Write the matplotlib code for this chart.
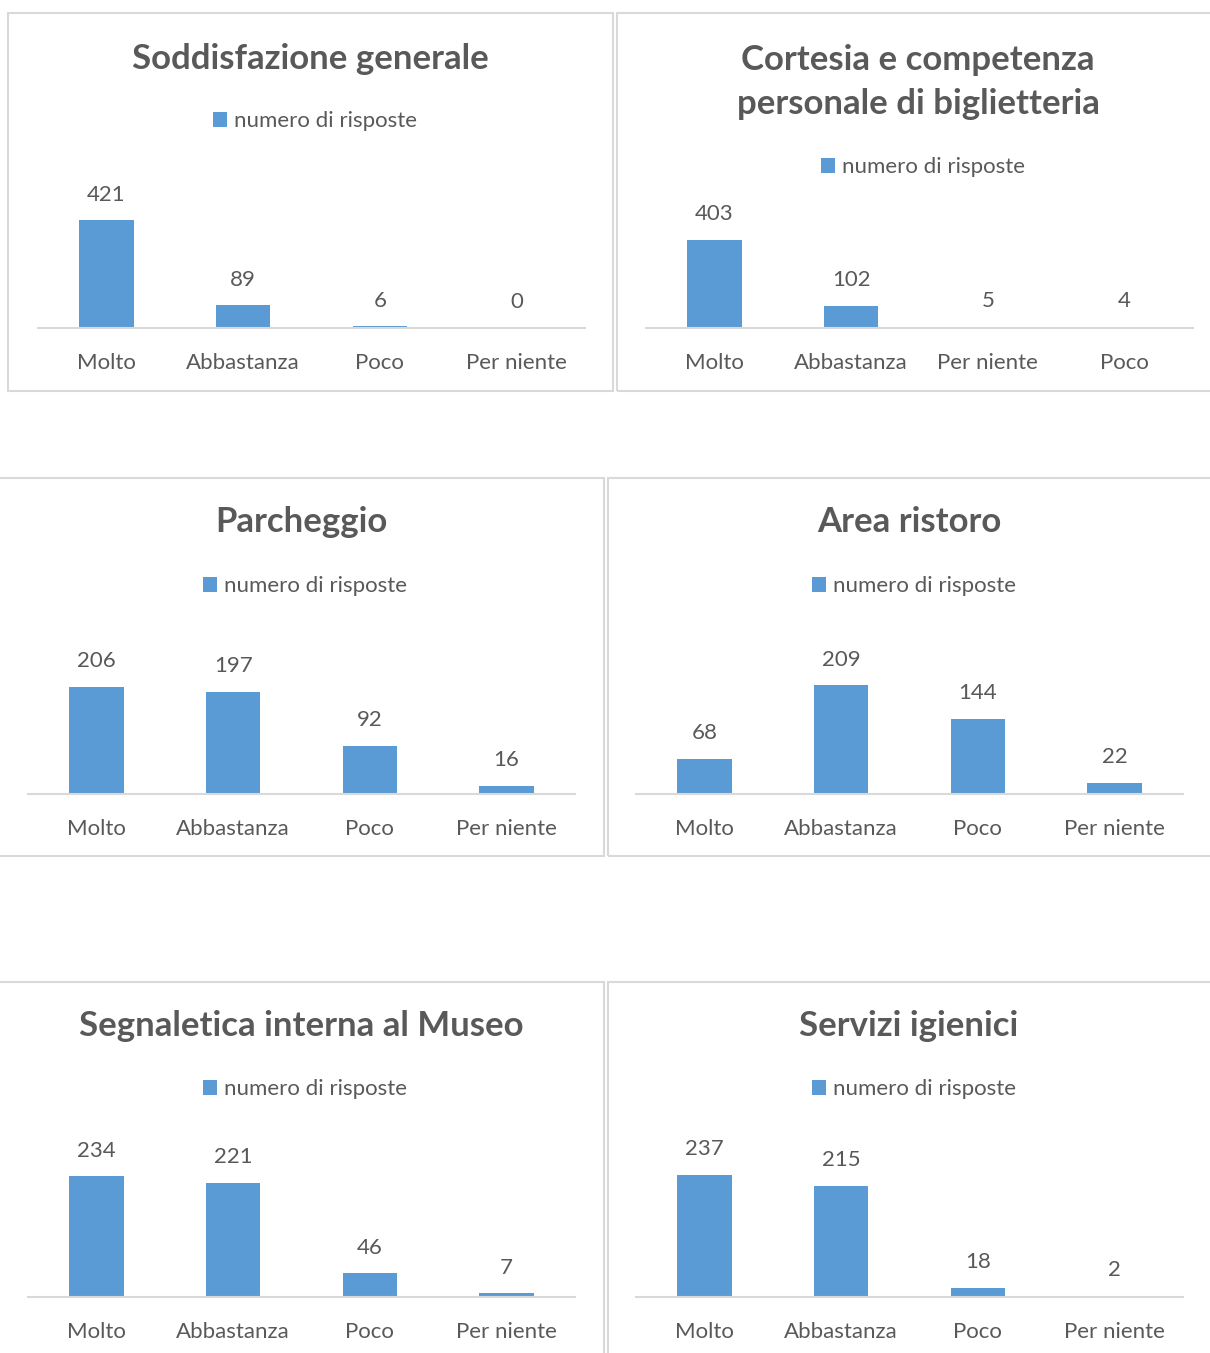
import matplotlib
matplotlib.use("Agg")
import matplotlib.pyplot as plt
from matplotlib.patches import Rectangle

plt.rcParams['font.family'] = ['Lato', 'DejaVu Sans']

# ---------------- data ----------------
titles = [
    "Soddisfazione generale",
    "Cortesia e competenza\npersonale di biglietteria",
    "Parcheggio",
    "Area ristoro",
    "Segnaletica interna al Museo",
    "Servizi igienici",
]
categories_std = ["Molto", "Abbastanza", "Poco", "Per niente"]
categories_cortesia = ["Molto", "Abbastanza", "Per niente", "Poco"]

values_soddisfazione = [421, 89, 6, 0]
values_cortesia = [403, 102, 5, 4]
values_parcheggio = [206, 197, 92, 16]
values_ristoro = [68, 209, 144, 22]
values_segnaletica = [234, 221, 46, 7]
values_igienici = [237, 215, 18, 2]

series_name = "numero di risposte"
y_max = [500, 500, 250, 250, 250, 250]

categories = [categories_std, categories_cortesia, categories_std,
              categories_std, categories_std, categories_std]
values = [values_soddisfazione, values_cortesia, values_parcheggio,
          values_ristoro, values_segnaletica, values_igienici]

# ---------------- layout (pixels) ----------------
W, H = 1210, 1353
BAR = "#5B9BD5"
TXT = "#595959"
GRID = "#D9D9D9"

# panel border boxes: (x0, y0, x1, y1)
panel_boxes = [
    (8, 13, 613, 391),
    (617, 13, 1222, 391),
    (-2, 478, 604, 856),
    (608, 478, 1214, 856),
    (-2, 982, 604, 1362),
    (608, 982, 1214, 1362),
]
# axes: (x0, x1, y_baseline, y_top)
axes_boxes = [
    (38, 585, 328, 200),
    (646, 1193, 328, 219),
    (28, 575, 794, 664),
    (636, 1183, 794, 664),
    (28, 575, 1297, 1168),
    (636, 1183, 1297, 1168),
]
title_pos = [(310, 59), (918, 82), (301, 522), (909, 522), (301, 1026), (909, 1026)]
legend_pos = [(315, 121), (923, 167), (305, 586), (914, 586), (305, 1089), (914, 1089)]

fig = plt.figure(figsize=(W / 100, H / 100), dpi=100)
fig.patch.set_facecolor("white")


def fx(x):
    return x / W


def fy(y):
    return 1 - y / H


for i in range(6):
    x0, y0, x1, y1 = panel_boxes[i]
    fig.patches.append(Rectangle((fx(x0), fy(y1)), fx(x1) - fx(x0), fy(y0) - fy(y1),
                                 transform=fig.transFigure, fill=False,
                                 edgecolor=GRID, linewidth=1.5, zorder=0))

    ax0, ax1, yb, yt = axes_boxes[i]
    ax = fig.add_axes([fx(ax0), fy(yb), fx(ax1) - fx(ax0), fy(yt) - fy(yb)])
    ax.set_facecolor("none")
    xs = list(range(len(categories[i])))
    bars = ax.bar(xs, values[i], width=0.4, color=BAR, label=series_name, zorder=2)
    ax.set_xlim(-0.5, len(xs) - 0.5)
    ax.set_ylim(0, y_max[i])
    for s in ["top", "left", "right"]:
        ax.spines[s].set_visible(False)
    ax.spines["bottom"].set_color(GRID)
    ax.spines["bottom"].set_linewidth(1.5)
    ax.spines["bottom"].set_zorder(3)
    ax.set_yticks([])
    ax.set_xticks(xs)
    ax.set_xticklabels(categories[i], fontsize=16, color=TXT)
    ax.tick_params(axis="x", length=0, pad=18)
    for b, v in zip(bars, values[i]):
        ax.annotate(str(v), (b.get_x() + b.get_width() / 2, v),
                    xytext=(0, 18.5), textcoords="offset points",
                    ha="center", va="center", fontsize=16, color=TXT)

    tx, ty = title_pos[i]
    fig.text(fx(tx), fy(ty), titles[i], ha="center", va="center",
             fontsize=25, fontweight="bold", color=TXT, linespacing=1.48)

    lx, ly = legend_pos[i]
    leg = ax.legend(loc="center", bbox_to_anchor=(fx(lx), fy(ly)),
                    bbox_transform=fig.transFigure, frameon=False,
                    fontsize=16, handlelength=0.65, handleheight=0.65,
                    handletextpad=0.3, borderaxespad=0, borderpad=0)
    for t in leg.get_texts():
        t.set_color(TXT)

fig.savefig("out.png", dpi=100, facecolor="white")
